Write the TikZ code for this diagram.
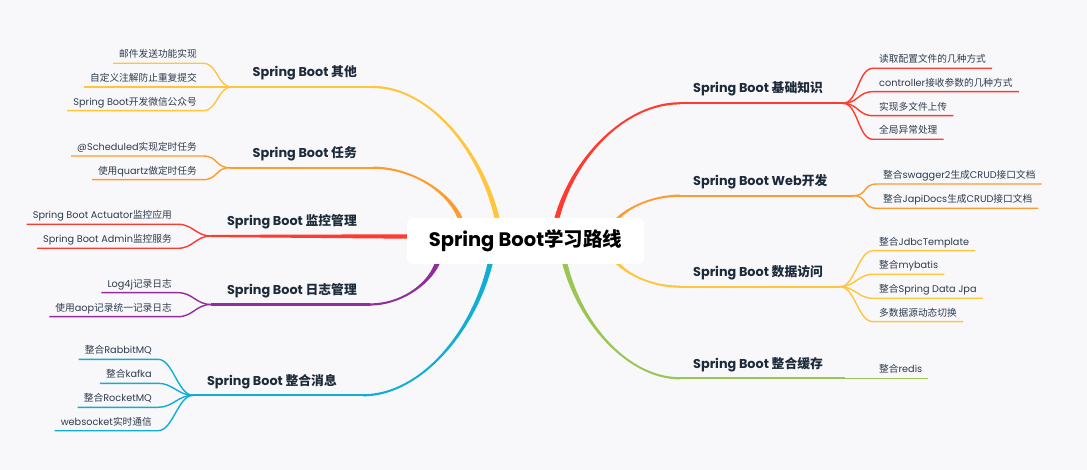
\documentclass[tikz,border=0pt]{standalone}
\usepackage{fontspec}
\setmainfont{Poppins}
\newfontfamily\cjk{Noto Sans CJK SC}
\usetikzlibrary{calc}
\definecolor{bg}{HTML}{F8F8FA}
\definecolor{cRed}{HTML}{FF3B2F}
\definecolor{cOrange}{HTML}{FF9A2E}
\definecolor{cYellow}{HTML}{FFC53D}
\definecolor{cPurple}{HTML}{922D9C}
\definecolor{cCyan}{HTML}{10AED3}
\definecolor{cGreen}{HTML}{9BC653}
\definecolor{ttlc}{HTML}{1D2A3A}
\definecolor{kidc}{HTML}{2D3B4C}

% tapered main branch: colour, start, curve end, junction
\newcommand\trunk[4]{%
  \fill[#1] let \p1=(#2), \p2=(#3),
    \n1={(\x2>\x1)?1:-1}, \n2={(\y2>\y1)?1:-1},
    \p3=({\x1+0.13*(\x2-\x1)},{\y1+0.52*(\y2-\y1)}),
    \p4=({\x1+0.55*(\x2-\x1)},\y2) in
    ({\x1-(\n1)*2.6pt},\y1) .. controls ({\x3-(\n1)*2pt},\y3) and (\x4,{\y2+(\n2)*1.1pt}) .. (\x2,{\y2+(\n2)*1.1pt})
    -- (\x2,{\y2-(\n2)*1.1pt}) .. controls (\x4,{\y2-(\n2)*1.1pt}) and ({\x3+(\n1)*2pt},\y3) .. ({\x1+(\n1)*2.6pt},\y1) -- cycle;
  \draw[#1, hline] (#3) -- (#4);}
% left child: name, colour, text, underline y, east x, junction
\newcommand\kidL[6]{%
  \node[kid, anchor=south east] (#1) at (#5,#4) {#3};
  \draw[#2, kidline] (#1.south west) -- (#1.south east) .. controls +(15,0) and +(-15,0) .. (#6);}
% right child: name, colour, text, underline y, west x, junction
\newcommand\kidR[6]{%
  \node[kid, anchor=south west] (#1) at (#5,#4) {#3};
  \draw[#2, kidline] (#6) .. controls +(15,0) and +(-15,0) .. (#1.south west) -- (#1.south east);}

\begin{document}
\begin{tikzpicture}[x=1pt,y=-1pt,
  kid/.style={font=\fontsize{9.7}{11}\selectfont, text=kidc, inner xsep=6pt, inner ysep=3.3pt, text height=8pt, text depth=2pt},
  ttl/.style={font=\fontsize{12.8}{14}\selectfont\bfseries, text=ttlc, inner sep=0pt},
  kidline/.style={line width=1.4pt},
  hline/.style={line width=2.2pt},
  rootbox/.style={fill=white, rounded corners=6pt, minimum width=237pt, minimum height=46pt, inner sep=0pt, font=\fontsize{19.5}{21}\selectfont\bfseries, text=black}]

\fill[bg] (0,0) rectangle (1087,470);

% branch geometry
\coordinate (s1) at (497,218);   \coordinate (e1) at (373,87);    \coordinate (j1) at (232,87);
\coordinate (s2) at (460,218);   \coordinate (e2) at (373,167.7); \coordinate (j2) at (230,167.7);
\coordinate (s3) at (408,236.5); \coordinate (j3) at (211,236);
\coordinate (s4) at (437,264);   \coordinate (e4) at (370,304.5); \coordinate (j4) at (211,304.5);
\coordinate (s5) at (490,264);   \coordinate (e5) at (363,395.3); \coordinate (j5) at (193,395.3);
\coordinate (s6) at (557,218);   \coordinate (e6) at (680,103.3); \coordinate (j6) at (843,103.3);
\coordinate (s7) at (612,226);   \coordinate (e7) at (680,195.7); \coordinate (j7) at (853,195.7);
\coordinate (s8) at (612,256);   \coordinate (e8) at (680,286.7); \coordinate (j8) at (840,286.7);
\coordinate (s9) at (565,264);   \coordinate (e9) at (680,378.3); \coordinate (j9) at (845,378.3);

\trunk{cYellow}{s1}{e1}{j1}
\trunk{cOrange}{s2}{e2}{j2}
\fill[cRed] let \p1=(s3), \p2=(j3) in (\x1,{\y1+2.2pt}) -- (\x2,{\y2+1.1pt}) -- (\x2,{\y2-1.1pt}) -- (\x1,{\y1-2.2pt}) -- cycle;
\trunk{cPurple}{s4}{e4}{j4}
\trunk{cCyan}{s5}{e5}{j5}
\trunk{cRed}{s6}{e6}{j6}
\trunk{cOrange}{s7}{e7}{j7}
\trunk{cYellow}{s8}{e8}{j8}
\trunk{cGreen}{s9}{e9}{j9}

% root
\node[rootbox] (root) at (525.5,241) {Spring Boot{\cjk 学习路线}};

% branch titles
\node[ttl, anchor=base east] (t1) at (357,76.7)  {Spring Boot {\cjk 其他}};
\node[ttl, anchor=base east] (t2) at (357,157.4) {Spring Boot {\cjk 任务}};
\node[ttl, anchor=base east] (t3) at (357,225.7) {Spring Boot {\cjk 监控管理}};
\node[ttl, anchor=base east] (t4) at (357,294.2) {Spring Boot {\cjk 日志管理}};
\node[ttl, anchor=base east] (t5) at (337,385)   {Spring Boot {\cjk 整合消息}};
\node[ttl, anchor=base west] (t6) at (693,93)    {Spring Boot {\cjk 基础知识}};
\node[ttl, anchor=base west] (t7) at (693,185.4) {Spring Boot Web{\cjk 开发}};
\node[ttl, anchor=base west] (t8) at (693,276.4) {Spring Boot {\cjk 数据访问}};
\node[ttl, anchor=base west] (t9) at (693,368)   {Spring Boot {\cjk 整合缓存}};

% left children
\kidL{k11}{cYellow}{{\cjk 邮件发送功能实现}}{63.3}{203}{j1}
\kidL{k12}{cYellow}{{\cjk 自定义注解防止重复提交}}{87}{203}{j1}
\kidL{k13}{cYellow}{Spring Boot{\cjk 开发微信公众号}}{110.7}{203}{j1}
\kidL{k21}{cOrange}{@Scheduled{\cjk 实现定时任务}}{156}{203}{j2}
\kidL{k22}{cOrange}{{\cjk 使用}quartz{\cjk 做定时任务}}{179.7}{203}{j2}
\kidL{k31}{cRed}{Spring Boot Actuator{\cjk 监控应用}}{224.3}{178}{j3}
\kidL{k32}{cRed}{Spring Boot Admin{\cjk 监控服务}}{248.3}{178}{j3}
\kidL{k41}{cPurple}{Log4j{\cjk 记录日志}}{292.7}{178}{j4}
\kidL{k42}{cPurple}{{\cjk 使用}aop{\cjk 记录统一记录日志}}{316.7}{178}{j4}
\kidL{k51}{cCyan}{{\cjk 整合}RabbitMQ}{359.3}{158}{j5}
\kidL{k52}{cCyan}{{\cjk 整合}kafka}{383.3}{158}{j5}
\kidL{k53}{cCyan}{{\cjk 整合}RocketMQ}{407.3}{158}{j5}
\kidL{k54}{cCyan}{websocket{\cjk 实时通信}}{430.7}{158}{j5}

% right children
\kidR{r11}{cRed}{{\cjk 读取配置文件的几种方式}}{68.3}{873}{j6}
\kidR{r12}{cRed}{controller{\cjk 接收参数的几种方式}}{91.7}{873}{j6}
\kidR{r13}{cRed}{{\cjk 实现多文件上传}}{115.7}{873}{j6}
\kidR{r14}{cRed}{{\cjk 全局异常处理}}{139.3}{873}{j6}
\kidR{r21}{cOrange}{{\cjk 整合}swagger2{\cjk 生成}CRUD{\cjk 接口文档}}{184}{877}{j7}
\kidR{r22}{cOrange}{{\cjk 整合}JapiDocs{\cjk 生成}CRUD{\cjk 接口文档}}{208.3}{877}{j7}
\kidR{r31}{cYellow}{{\cjk 整合}JdbcTemplate}{250.7}{873}{j8}
\kidR{r32}{cYellow}{{\cjk 整合}mybatis}{274.3}{873}{j8}
\kidR{r33}{cYellow}{{\cjk 整合}Spring Data Jpa}{298.3}{873}{j8}
\kidR{r34}{cYellow}{{\cjk 多数据源动态切换}}{321.7}{873}{j8}
\kidR{r41}{cGreen}{{\cjk 整合}redis}{378.3}{873}{j9}
\end{tikzpicture}
\end{document}
